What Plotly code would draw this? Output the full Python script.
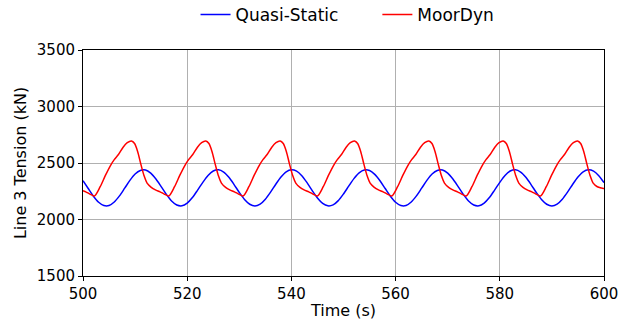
import plotly.graph_objects as go

# Quasi-Static line tension (kN), sampled every 1 s from 500 to 600 s
qs_time = list(range(500, 601))
qs_tension = [
    2343, 2274, 2206, 2153, 2124, 2124, 2155, 2209, 2277, 2346,
    2402, 2434, 2438, 2410, 2358, 2291, 2222, 2164, 2128, 2121,
    2145, 2194, 2260, 2329, 2390, 2429, 2440, 2420, 2373, 2309,
    2239, 2177, 2135, 2120, 2136, 2180, 2242, 2312, 2376, 2422,
    2440, 2428, 2387, 2326, 2256, 2191, 2143, 2121, 2129, 2167,
    2226, 2295, 2362, 2413, 2438, 2433, 2399, 2343, 2274, 2206,
    2153, 2124, 2124, 2155, 2209, 2277, 2346, 2402, 2434, 2438,
    2410, 2358, 2291, 2222, 2164, 2128, 2121, 2145, 2194, 2260,
    2329, 2390, 2429, 2440, 2420, 2373, 2309, 2239, 2177, 2135,
    2120, 2136, 2180, 2242, 2312, 2376, 2422, 2440, 2428, 2387,
    2326,
]

# MoorDyn line tension (kN), read at irregular times
md_time = [
    498.83, 499.63, 500.53, 501.33,
    502.20, 503.30, 504.30, 505.30, 506.00, 506.80, 507.70, 508.50, 509.30,
    509.90, 510.50, 511.10, 511.70, 512.30, 513.10, 513.90, 514.80, 515.60,
    516.47, 517.57, 518.57, 519.57, 520.27, 521.07, 521.97, 522.77, 523.57,
    524.17, 524.77, 525.37, 525.97, 526.57, 527.37, 528.17, 529.07, 529.87,
    530.74, 531.84, 532.84, 533.84, 534.54, 535.34, 536.24, 537.04, 537.84,
    538.44, 539.04, 539.64, 540.24, 540.84, 541.64, 542.44, 543.34, 544.14,
    545.01, 546.11, 547.11, 548.11, 548.81, 549.61, 550.51, 551.31, 552.11,
    552.71, 553.31, 553.91, 554.51, 555.11, 555.91, 556.71, 557.61, 558.41,
    559.28, 560.38, 561.38, 562.38, 563.08, 563.88, 564.78, 565.58, 566.38,
    566.98, 567.58, 568.18, 568.78, 569.38, 570.18, 570.98, 571.88, 572.68,
    573.55, 574.65, 575.65, 576.65, 577.35, 578.15, 579.05, 579.85, 580.65,
    581.25, 581.85, 582.45, 583.05, 583.65, 584.45, 585.25, 586.15, 586.95,
    587.82, 588.92, 589.92, 590.92, 591.62, 592.42, 593.32, 594.12, 594.92,
    595.52, 596.12, 596.72, 597.32, 597.92, 598.72, 599.52, 600.42, 601.22,
]
md_tension = [
    2285, 2262, 2245, 2225,
    2208, 2290, 2390, 2480, 2530, 2575, 2640, 2680, 2695,
    2672, 2600, 2490, 2390, 2322, 2285, 2262, 2245, 2225,
    2208, 2290, 2390, 2480, 2530, 2575, 2640, 2680, 2695,
    2672, 2600, 2490, 2390, 2322, 2285, 2262, 2245, 2225,
    2208, 2290, 2390, 2480, 2530, 2575, 2640, 2680, 2695,
    2672, 2600, 2490, 2390, 2322, 2285, 2262, 2245, 2225,
    2208, 2290, 2390, 2480, 2530, 2575, 2640, 2680, 2695,
    2672, 2600, 2490, 2390, 2322, 2285, 2262, 2245, 2225,
    2208, 2290, 2390, 2480, 2530, 2575, 2640, 2680, 2695,
    2672, 2600, 2490, 2390, 2322, 2285, 2262, 2245, 2225,
    2208, 2290, 2390, 2480, 2530, 2575, 2640, 2680, 2695,
    2672, 2600, 2490, 2390, 2322, 2285, 2262, 2245, 2225,
    2208, 2290, 2390, 2480, 2530, 2575, 2640, 2680, 2695,
    2672, 2600, 2490, 2390, 2322, 2290, 2278, 2270, 2255,
]

x_ticks = [500, 520, 540, 560, 580, 600]
y_ticks = [1500, 2000, 2500, 3000, 3500]

font = "DejaVu Sans"

fig = go.Figure()
fig.add_trace(go.Scatter(x=qs_time, y=qs_tension, mode="lines", name="Quasi-Static",
                         legend="legend",
                         line=dict(color="#0000ff", width=1.5, shape="spline", smoothing=0.8)))
fig.add_trace(go.Scatter(x=md_time, y=md_tension, mode="lines", name="MoorDyn",
                         legend="legend2",
                         line=dict(color="#ff0000", width=1.5, shape="spline", smoothing=0.8)))

axis_common = dict(showline=True, linecolor="black", linewidth=1, mirror=True,
                   showgrid=True, gridcolor="#b0b0b0", gridwidth=1,
                   ticks="outside", tickcolor="black", ticklen=4, tickwidth=1,
                   tickfont=dict(family=font, size=15, color="black"),
                   zeroline=False, automargin=False)

legend_common = dict(orientation="h", y=1.155, yanchor="middle", xanchor="left",
                     font=dict(family=font, size=17, color="black"),
                     itemwidth=30, bgcolor="rgba(0,0,0,0)")

fig.update_layout(
    width=620, height=320,
    margin=dict(l=83, r=16, t=50, b=44, autoexpand=False),
    paper_bgcolor="white", plot_bgcolor="white",
    font=dict(family=font, color="black"),
    showlegend=True,
    legend=dict(x=0.216, **legend_common),
    legend2=dict(x=0.565, **legend_common),
    xaxis=dict(range=[500, 600], tickvals=x_ticks, ticktext=[str(v) for v in x_ticks],
               title=dict(text="Time (s)", font=dict(family=font, size=16), standoff=2),
               **axis_common),
    yaxis=dict(range=[1500, 3500], tickvals=y_ticks, ticktext=[str(v) for v in y_ticks],
               title=dict(text="Line 3 Tension (kN)", font=dict(family=font, size=16), standoff=6),
               **axis_common),
)

fig.write_html("out.html")
